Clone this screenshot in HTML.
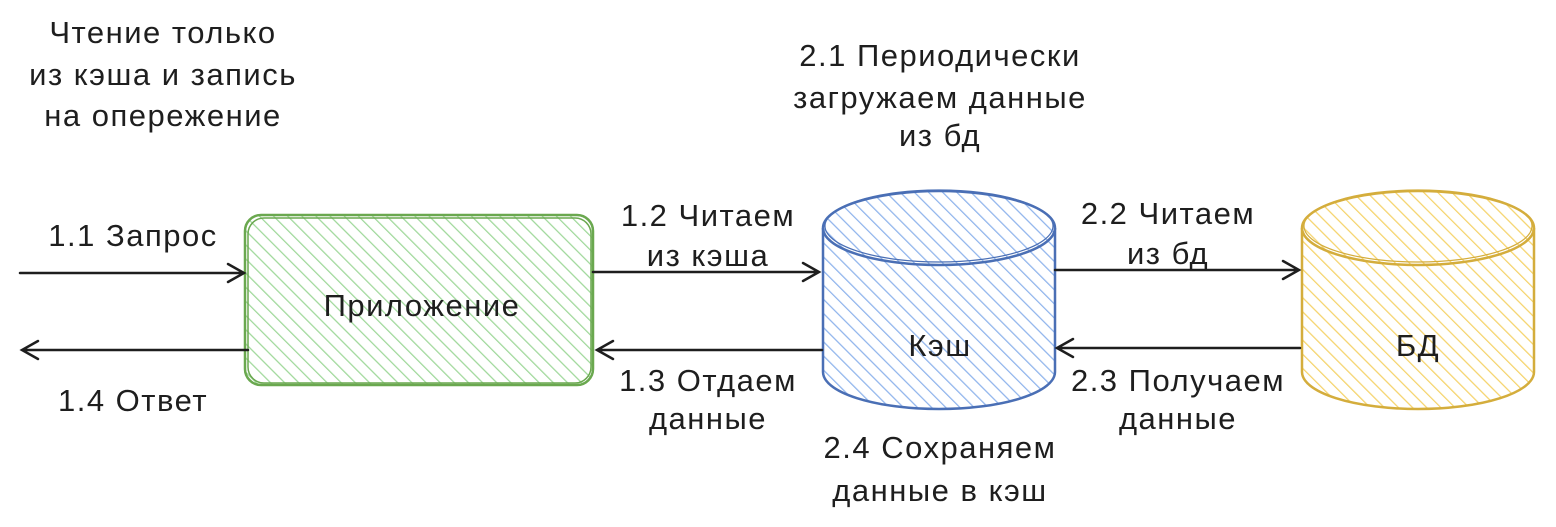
<!DOCTYPE html>
<html><head><meta charset="utf-8"><style>
html,body{margin:0;padding:0;background:#fff;}
svg{display:block}
text{font-family:"Liberation Sans",sans-serif;font-size:31px;letter-spacing:1.5px;fill:#1e1e1e;text-anchor:middle}
</style></head><body>
<svg width="1556" height="527" viewBox="0 0 1556 527" xmlns="http://www.w3.org/2000/svg">
<defs>
<pattern id="hg" width="10" height="10" patternUnits="userSpaceOnUse" patternTransform="rotate(-45)">
<rect width="10" height="10" fill="#fff"/><line x1="0" y1="0" x2="0" y2="10" stroke="#9fd89a" stroke-width="2.5"/></pattern>
<pattern id="hb" width="10" height="10" patternUnits="userSpaceOnUse" patternTransform="rotate(-45)">
<rect width="10" height="10" fill="#fff"/><line x1="0" y1="0" x2="0" y2="10" stroke="#8fb4ec" stroke-width="2.5"/></pattern>
<pattern id="hy" width="10" height="10" patternUnits="userSpaceOnUse" patternTransform="rotate(-45)">
<rect width="10" height="10" fill="#fff"/><line x1="0" y1="0" x2="0" y2="10" stroke="#f5d36a" stroke-width="2.5"/></pattern>
</defs>

<rect x="245" y="215" width="348" height="170" rx="16" fill="url(#hg)" stroke="#6aa84f" stroke-width="2.5"/>
<rect x="248" y="218" width="343" height="165" rx="16" fill="none" stroke="#6aa84f" stroke-width="1.5"/>
<text x="422" y="316">Приложение</text>

<path d="M823 228 L823 372 A116 37 0 0 0 1055 372 L1055 228" fill="url(#hb)" stroke="#4a6fb5" stroke-width="2.5"/>
<ellipse cx="939" cy="228" rx="116" ry="37" fill="url(#hb)" stroke="#4a6fb5" stroke-width="2.5"/>
<ellipse cx="939" cy="226" rx="114" ry="36" fill="none" stroke="#4a6fb5" stroke-width="1.2"/>
<text x="940" y="356">Кэш</text>

<path d="M1302 228 L1302 372 A116 37 0 0 0 1534 372 L1534 228" fill="url(#hy)" stroke="#d4ad3c" stroke-width="2.5"/>
<ellipse cx="1418" cy="228" rx="116" ry="37" fill="url(#hy)" stroke="#d4ad3c" stroke-width="2.5"/>
<ellipse cx="1418" cy="226" rx="114" ry="36" fill="none" stroke="#d4ad3c" stroke-width="1.2"/>
<text x="1418" y="356">БД</text>

<g stroke="#1e1e1e" stroke-width="2.5" fill="none" stroke-linecap="round">
<path d="M20 273 L244 273 M228 264 L244 273 L228 282"/>
<path d="M248 350 L22 350 M38 341 L22 350 L38 359"/>
<path d="M593 272 L819 272 M803 263 L819 272 L803 281"/>
<path d="M822 350 L597 350 M613 341 L597 350 L613 359"/>
<path d="M1055 270 L1299 270 M1283 261 L1299 270 L1283 279"/>
<path d="M1300 348 L1057 348 M1073 339 L1057 348 L1073 357"/>
</g>

<text x="163" y="43">Чтение только</text>
<text x="163" y="85">из кэша и запись</text>
<text x="163" y="126">на опережение</text>
<text x="133" y="246">1.1 Запрос</text>
<text x="133" y="411">1.4 Ответ</text>
<text x="708" y="226">1.2 Читаем</text>
<text x="708" y="266">из кэша</text>
<text x="708" y="391">1.3 Отдаем</text>
<text x="708" y="429">данные</text>
<text x="940" y="66">2.1 Периодически</text>
<text x="940" y="108">загружаем данные</text>
<text x="940" y="146">из бд</text>
<text x="1168" y="224">2.2 Читаем</text>
<text x="1168" y="264">из бд</text>
<text x="1178" y="391">2.3 Получаем</text>
<text x="1178" y="429">данные</text>
<text x="940" y="458">2.4 Сохраняем</text>
<text x="940" y="501">данные в кэш</text>
</svg>
</body></html>
